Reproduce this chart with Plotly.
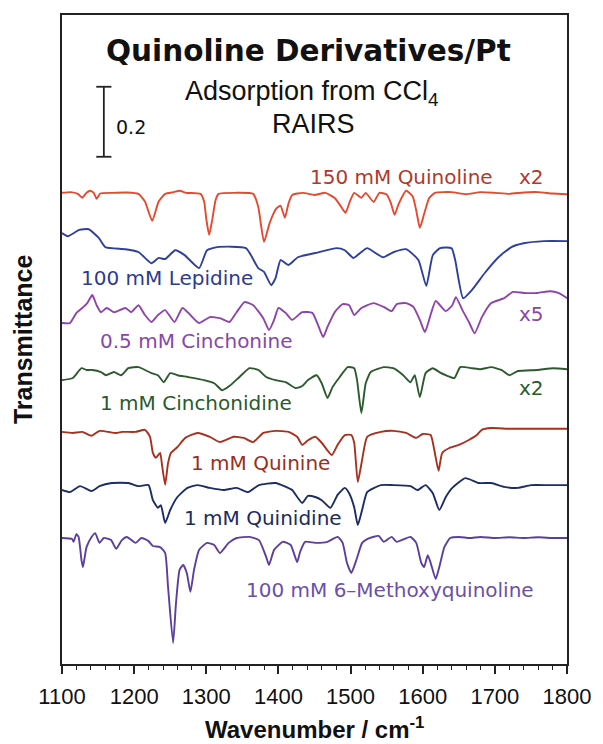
import plotly.graph_objects as go

# ---- data: (wavenumber, change in transmittance relative to each trace's baseline) ----
QUINOLINE = [(1100,0),(1112,0.002),(1122,-0.003),(1128,-0.014),(1134,0),(1139,0.006),(1144,0),(1148,-0.017),
 (1153,-0.002),(1170,0),(1190,0.001),(1206,-0.003),(1215,-0.025),(1225,-0.080),(1234,-0.025),(1243,-0.003),
 (1255,0.002),(1263,0.006),(1272,0),(1292,-0.003),(1297,-0.025),(1300,-0.075),(1304,-0.120),(1308,-0.080),
 (1313,-0.020),(1317,-0.003),(1340,0),(1365,-0.003),(1372,-0.040),(1380,-0.140),(1388,-0.085),(1397,-0.045),
 (1403,-0.037),(1409,-0.071),(1414,-0.030),(1419,-0.006),(1434,0),(1450,-0.006),(1465,0),(1478,-0.015),
 (1487,-0.040),(1493,-0.057),(1499,-0.025),(1505,0),(1515,-0.014),(1521,0),(1532,-0.026),(1540,0),
 (1550,-0.005),(1556,-0.030),(1561,-0.063),(1567,-0.030),(1577,0.006),(1586,-0.010),(1591,-0.050),
 (1596,-0.100),(1602,-0.060),(1609,-0.015),(1617,0),(1640,0.002),(1660,-0.004),(1680,0.002),(1700,0),
 (1720,-0.003),(1740,0.001),(1760,0.002),(1780,-0.002),(1800,-0.004)]

LEPIDINE = [(1100,0),(1108,-0.009),(1124,0.009),(1137,0.011),(1151,-0.014),(1160,-0.040),(1188,-0.046),
 (1206,-0.054),(1224,-0.086),(1234,-0.071),(1243,-0.074),(1257,-0.049),(1270,-0.063),(1290,-0.100),
 (1301,-0.049),(1315,-0.040),(1355,-0.043),(1372,-0.100),(1380,-0.111),(1390,-0.149),(1396,-0.129),
 (1403,-0.077),(1414,-0.091),(1427,-0.069),(1451,-0.057),(1481,-0.043),(1492,-0.049),(1504,-0.071),
 (1515,-0.054),(1523,-0.043),(1545,-0.069),(1560,-0.054),(1577,-0.046),(1594,-0.077),(1605,-0.151),
 (1614,-0.063),(1624,-0.043),(1640,-0.043),(1645,-0.077),(1656,-0.186),(1668,-0.163),(1686,-0.114),
 (1705,-0.069),(1723,-0.040),(1740,-0.029),(1768,-0.023),(1800,-0.023)]

CINCHONINE = [(1100,0),(1111,0),(1120,0.029),(1128,0.043),(1135,0.057),(1142,0.080),(1148,0.051),
 (1154,0.031),(1162,0.043),(1172,0.031),(1188,0.043),(1196,0.031),(1206,0.051),(1215,0.023),(1224,0.003),
 (1233,0.023),(1243,0.037),(1256,0.003),(1267,0.043),(1278,0.023),(1290,0),(1305,0.017),(1319,0.014),
 (1332,0.003),(1342,0.031),(1353,0.060),(1365,0.051),(1379,0.014),(1387,-0.020),(1394,0.009),(1400,0.043),
 (1410,0.029),(1419,0.009),(1433,0.031),(1447,0.029),(1455,-0.006),(1462,-0.040),(1468,-0.011),
 (1478,0.031),(1489,0.054),(1498,0.051),(1505,0.023),(1515,0.043),(1532,0.057),(1546,0.046),(1557,0.034),
 (1564,0.054),(1577,0.057),(1587,0.046),(1596,0.009),(1603,-0.026),(1610,0.017),(1618,0.063),(1632,0.034),
 (1641,0.051),(1646,0.074),(1655,0.037),(1664,0.003),(1672,-0.029),(1682,0.017),(1695,0.057),(1713,0.071),
 (1725,0.089),(1740,0.086),(1759,0.086),(1777,0.091),(1788,0.086),(1800,0.071)]

CINCHONIDINE = [(1100,0),(1115,0.006),(1127,0.034),(1134,0.029),(1142,0.029),(1154,0.023),(1161,0.014),
 (1172,0.023),(1182,0.014),(1192,0.034),(1206,0.037),(1224,0.020),(1233,0.014),(1241,-0.006),(1250,0.020),
 (1260,0.014),(1274,0.009),(1297,0),(1311,-0.009),(1322,-0.029),(1332,-0.017),(1346,0.009),(1360,0.034),
 (1372,0.029),(1383,0.009),(1396,0),(1410,-0.006),(1424,-0.023),(1433,-0.017),(1441,0),(1453,0.014),
 (1460,-0.009),(1468,-0.051),(1475,-0.020),(1485,0.009),(1496,0.037),(1505,0.034),(1509,0),(1515,-0.094),
 (1521,-0.009),(1528,0.023),(1546,0.037),(1559,0.034),(1573,0.014),(1583,-0.006),(1589,0.014),
 (1596,-0.049),(1604,0.020),(1614,0.034),(1623,0.023),(1632,0.014),(1644,0.006),(1652,0.037),(1668,0.034),
 (1680,0.031),(1695,0.037),(1709,0.029),(1720,0.014),(1732,0.026),(1759,0.029),(1781,0.034),(1800,0.031)]

QUININE = [(1100,0),(1115,-0.003),(1128,0),(1141,-0.011),(1152,0.003),(1175,-0.003),(1183,0),(1202,0),
 (1215,0.006),(1222,-0.014),(1226,-0.060),(1230,-0.074),(1236,-0.060),(1239,-0.100),(1243,-0.151),
 (1247,-0.089),(1251,-0.060),(1260,-0.043),(1271,-0.017),(1288,-0.003),(1305,-0.014),(1319,-0.029),
 (1338,-0.014),(1352,-0.017),(1365,-0.029),(1379,-0.003),(1396,0.003),(1414,0),(1426,-0.014),
 (1433,-0.037),(1441,-0.024),(1451,-0.014),(1460,-0.031),(1474,-0.066),(1482,-0.037),(1492,-0.009),
 (1501,-0.009),(1505,-0.031),(1510,-0.143),(1516,-0.080),(1523,-0.014),(1542,0),(1559,0.003),
 (1577,-0.003),(1591,-0.017),(1600,-0.006),(1611,-0.009),(1616,-0.051),(1622,-0.111),(1627,-0.060),
 (1637,-0.046),(1650,-0.037),(1664,-0.023),(1675,-0.009),(1682,0.006),(1695,0.011),(1718,0.009),
 (1740,0.009),(1770,0.009),(1800,0.009)]

QUINIDINE = [(1100,0),(1111,-0.006),(1125,0.011),(1141,-0.003),(1152,0.011),(1169,0.020),(1192,0.020),
 (1206,0.011),(1220,0.014),(1226,-0.029),(1233,-0.051),(1237,-0.043),(1243,-0.094),(1250,-0.057),
 (1260,-0.020),(1274,0.006),(1288,0.014),(1305,0.006),(1324,0),(1342,0.006),(1358,-0.006),(1373,0.014),
 (1396,0.020),(1419,0),(1426,-0.020),(1433,-0.037),(1441,-0.017),(1451,-0.020),(1460,-0.029),
 (1472,-0.051),(1482,-0.014),(1492,0.006),(1498,-0.009),(1505,-0.049),(1510,-0.100),(1516,-0.057),
 (1523,-0.006),(1542,0.014),(1559,0.014),(1583,0.011),(1593,0),(1604,0.014),(1614,-0.009),(1623,-0.057),
 (1632,-0.020),(1641,0.006),(1659,0.034),(1678,0.020),(1695,0.020),(1713,0.009),(1732,0.006),
 (1750,0.014),(1775,0.014),(1800,0.014)]

METHOXYQUINOLINE = [(1100,0),(1114,-0.003),(1116,-0.011),(1120,0.011),(1123,0.003),(1127,-0.063),
 (1129,-0.083),(1134,-0.026),(1141,0.003),(1146,0.014),(1152,-0.014),(1158,0),(1168,-0.006),(1175,-0.031),
 (1183,-0.006),(1190,0.003),(1202,-0.014),(1210,0),(1220,-0.009),(1226,-0.023),(1236,-0.026),
 (1243,-0.043),(1247,-0.140),(1254,-0.300),(1258,-0.186),(1263,-0.091),(1268,-0.077),(1273,-0.100),
 (1278,-0.154),(1283,-0.091),(1290,-0.034),(1301,-0.014),(1311,-0.020),(1319,-0.043),(1331,-0.014),
 (1342,0),(1360,0.003),(1373,-0.006),(1383,-0.054),(1387,-0.077),(1394,-0.034),(1406,-0.011),
 (1417,-0.020),(1426,-0.069),(1430,-0.040),(1437,-0.011),(1451,-0.014),(1468,-0.011),(1482,0.003),
 (1489,-0.014),(1495,-0.071),(1501,-0.100),(1508,-0.063),(1516,-0.014),(1523,-0.003),(1539,0.006),
 (1546,-0.011),(1557,0.003),(1564,-0.011),(1583,0.003),(1591,-0.014),(1598,-0.071),(1602,-0.083),
 (1607,-0.049),(1611,-0.071),(1618,-0.117),(1623,-0.083),(1630,-0.026),(1638,0),(1651,0.003),(1665,0),
 (1680,0.003),(1700,0),(1720,0.002),(1740,0),(1760,0.002),(1780,0),(1800,0)]

SERIES_NAMES = ["150 mM Quinoline", "100 mM Lepidine", "0.5 mM Cinchonine", "1 mM Cinchonidine",
                "1 mM Quinine", "1 mM Quinidine", "100 mM 6\u2013Methoxyquinoline"]
SERIES_DATA = [QUINOLINE, LEPIDINE, CINCHONINE, CINCHONIDINE, QUININE, QUINIDINE, METHOXYQUINOLINE]
BASELINES = [1.346, 1.231, 0.974, 0.811, 0.663, 0.497, 0.360]   # vertical stacking offsets
MULTIPLIERS = ["x2", "", "x5", "x2", "", "", ""]
X_TICKS = [1100, 1200, 1300, 1400, 1500, 1600, 1700, 1800]
SCALE_BAR = 0.2

# ---- styles ----
LINE_COLORS = ["#e5492f", "#2f3f9c", "#8d45aa", "#2c5a2e", "#a7301f", "#1e2c64", "#5b3f9d"]
LABEL_COLORS = ["#b3382b", "#2e3b8e", "#8a46a8", "#2a5a2c", "#9a2e22", "#1d2a5e", "#6b50aa"]
LABEL_POS = [(1571, 1.391), (1246, 1.103), (1286, 0.923), (1286, 0.746), (1375, 0.574), (1379, 0.417), (1555, 0.211)]
MULT_POS = [(1751, 1.391), None, (1751, 1.0), (1751, 0.789), None, None, None]

fig = go.Figure()
for name, data, base, col in zip(SERIES_NAMES, SERIES_DATA, BASELINES, LINE_COLORS):
    xs = [p[0] for p in data]
    ys = [base + p[1] for p in data]
    fig.add_trace(go.Scatter(x=xs, y=ys, mode="lines", name=name,
                             line=dict(color=col, width=1.9, shape="spline", smoothing=0.5),
                             showlegend=False, hoverinfo="skip"))

annotations = []
lab_font = "DejaVu Sans"
for name, (lx, ly), col in zip(SERIES_NAMES, LABEL_POS, LABEL_COLORS):
    annotations.append(dict(x=lx, y=ly, xref="x", yref="y", text=name, showarrow=False,
                            font=dict(family=lab_font, size=20, color=col), xanchor="center", yanchor="middle"))
for m, pos, col in zip(MULTIPLIERS, MULT_POS, LABEL_COLORS):
    if m and pos:
        annotations.append(dict(x=pos[0], y=pos[1], xref="x", yref="y", text=m, showarrow=False,
                                font=dict(family=lab_font, size=20, color=col), xanchor="center", yanchor="middle"))

# title block
annotations.append(dict(x=1442, y=1.752, xref="x", yref="y", text="<b>Quinoline Derivatives/Pt</b>",
                        showarrow=False, font=dict(family="DejaVu Sans", size=29.5, color="#111"),
                        xanchor="center", yanchor="middle"))
annotations.append(dict(x=1446, y=1.630, xref="x", yref="y", text="Adsorption from CCl<sub>4</sub>",
                        showarrow=False, font=dict(family="Liberation Sans", size=27, color="#111"),
                        xanchor="center", yanchor="middle"))
annotations.append(dict(x=1448, y=1.543, xref="x", yref="y", text="RAIRS",
                        showarrow=False, font=dict(family="Liberation Sans", size=27, color="#111"),
                        xanchor="center", yanchor="middle"))
annotations.append(dict(x=1195, y=1.534, xref="x", yref="y", text=str(SCALE_BAR),
                        showarrow=False, font=dict(family="DejaVu Sans", size=19, color="#111"),
                        xanchor="center", yanchor="middle"))
# axis titles
annotations.append(dict(x=0.5, y=-0.098, xref="paper", yref="paper", text="<b>Wavenumber / cm<sup>-1</sup></b>",
                        showarrow=False, font=dict(family="Liberation Sans", size=24, color="#111"),
                        xanchor="center", yanchor="middle"))
annotations.append(dict(x=-0.078, y=0.5, xref="paper", yref="paper", text="<b>Transmittance</b>", textangle=-90,
                        showarrow=False, font=dict(family="Liberation Sans", size=25, color="#111"),
                        xanchor="center", yanchor="middle"))

# scale bar
bar_x, bar_top = 1158, 1.649
shapes = [
    dict(type="line", xref="x", yref="y", x0=bar_x, x1=bar_x, y0=bar_top, y1=bar_top - SCALE_BAR,
         line=dict(color="#222", width=1.8)),
    dict(type="line", xref="x", yref="y", x0=bar_x - 10.5, x1=bar_x + 10.5, y0=bar_top, y1=bar_top,
         line=dict(color="#222", width=1.8)),
    dict(type="line", xref="x", yref="y", x0=bar_x - 10.5, x1=bar_x + 10.5, y0=bar_top - SCALE_BAR,
         y1=bar_top - SCALE_BAR, line=dict(color="#222", width=1.8)),
]

fig.update_layout(
    width=603, height=744,
    margin=dict(l=62, r=26, t=15, b=80),
    plot_bgcolor="white", paper_bgcolor="white",
    annotations=annotations, shapes=shapes,
    xaxis=dict(range=[1100, 1800], tickvals=X_TICKS, ticktext=[str(t) for t in X_TICKS],
               ticks="outside", ticklen=8, tickwidth=1.5, tickcolor="#222",
               minor=dict(dtick=20, tick0=1100, ticks="outside", ticklen=4, tickwidth=1.3, tickcolor="#222"),
               showline=True, linecolor="#222", linewidth=1.6, mirror=True,
               showgrid=False, zeroline=False, ticklabelstandoff=4,
               tickfont=dict(family="Liberation Sans", size=22, color="#111")),
    yaxis=dict(range=[0, 1.854], showticklabels=False, ticks="", showgrid=False, zeroline=False,
               showline=True, linecolor="#222", linewidth=1.6, mirror=True),
)

fig.write_html("out.html")
